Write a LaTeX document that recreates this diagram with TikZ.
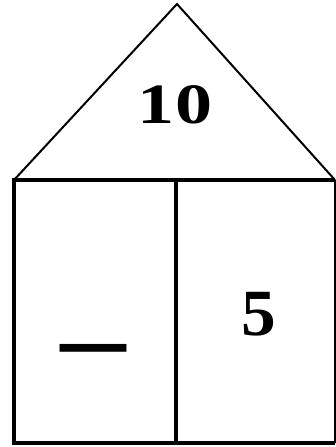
\documentclass[tikz,border=0pt]{standalone}
\usepackage{fontspec}
\setmainfont{Liberation Serif}

\begin{document}
\begin{tikzpicture}[
    x=1pt, y=-1pt,
    roof/.style={draw, line width=2pt, line join=miter},
    wall/.style={draw, line width=3.2pt},
    thinwall/.style={draw, line width=1.2pt},
    digit/.style={font=\bfseries\fontsize{57}{57}\selectfont, inner sep=0pt, xscale=1.3},
    bigdigit/.style={font=\bfseries\fontsize{66}{66}\selectfont, inner sep=0pt, xscale=1.05},
    sign/.style={font=\bfseries\fontsize{66}{66}\selectfont, inner sep=0pt, yscale=1.7}
]
    \useasboundingbox (0,0) rectangle (336,447);

    % Corners of the house
    \coordinate (apex) at (177,4);
    \coordinate (eaveL) at (14,180);
    \coordinate (eaveR) at (335,180);
    \coordinate (baseL) at (14,443);
    \coordinate (baseR) at (335,443);
    \coordinate (midT) at (176,180);
    \coordinate (midB) at (176,443);

    % Roof
    \draw[roof] (eaveL) -- (apex) -- (eaveR);

    % Walls
    \draw[wall] (eaveR) -- (eaveL) -- (baseL) -- (baseR);
    \draw[thinwall] (eaveR) -- (baseR);
    \draw[wall] (midT) -- (midB);

    % Numbers
    \node[digit] (total) at (175,104.5) {10};
    \node[sign] (missing) at (93.5,359) {—};
    \node[bigdigit] (part) at (258.5,314) {5};
\end{tikzpicture}
\end{document}
